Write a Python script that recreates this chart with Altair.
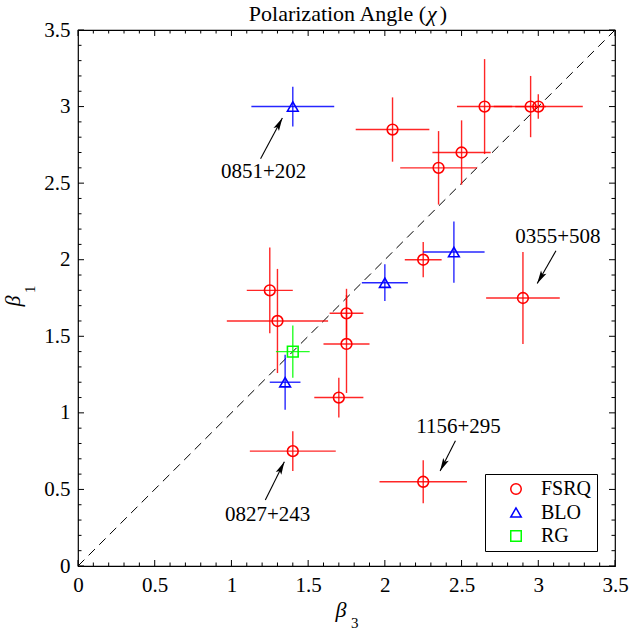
import math
import altair as alt
import pandas as pd

SERIF = "Liberation Serif"

# ---------------- data ----------------
classes = ["FSRQ", "BLO", "RG"]
class_colors = ["#ff0000", "#0000ff", "#00ff00"]
class_shapes = ["circle", "triangle-up", "square"]

src_class = ["FSRQ"] * 15 + ["BLO"] * 4 + ["RG"]
beta3 = [2.05, 2.35, 2.50, 2.65, 2.95, 3.00, 1.25, 1.30, 1.75, 1.75, 1.70, 2.25, 2.90, 1.40, 2.25,
         1.40, 1.35, 2.00, 2.45,
         1.40]
beta1 = [2.85, 2.60, 2.70, 3.00, 3.00, 3.00, 1.80, 1.60, 1.65, 1.45, 1.10, 2.00, 1.75, 0.75, 0.55,
         3.00, 1.20, 1.85, 2.05,
         1.40]
beta3_err = [0.24, 0.25, 0.19, 0.18, 0.10, 0.29, 0.15, 0.33, 0.11, 0.15, 0.16, 0.12, 0.24, 0.28, 0.285,
             0.27, 0.10, 0.15, 0.20,
             0.11]
beta1_err = [0.21, 0.24, 0.21, 0.31, 0.20, 0.08, 0.28, 0.34, 0.16, 0.32, 0.13, 0.115, 0.30, 0.13, 0.14,
             0.13, 0.18, 0.12, 0.20,
             0.17]

diag_x = [0.0, 3.5]
diag_y = [0.0, 3.5]

major_ticks = [0, 0.5, 1, 1.5, 2, 2.5, 3, 3.5]
minor_ticks = [0.1, 0.2, 0.3, 0.4, 0.6, 0.7, 0.8, 0.9, 1.1, 1.2, 1.3, 1.4, 1.6, 1.7, 1.8, 1.9,
               2.1, 2.2, 2.3, 2.4, 2.6, 2.7, 2.8, 2.9, 3.1, 3.2, 3.3, 3.4]

ann_label = ["0851+202", "0355+508", "1156+295", "0827+243"]
ann_tx = [1.21, 3.128, 2.48, 1.236]
ann_ty = [2.57, 2.147, 0.907, 0.336]
arrow_x0 = [1.19, 3.115, 2.46, 1.221]
arrow_y0 = [2.66, 2.058, 0.818, 0.431]
arrow_x1 = [1.332, 2.993, 2.36, 1.345]
arrow_y1 = [2.926, 1.845, 0.62, 0.681]

title_parts = ["Polarization Angle (", "\u03c7", ")"]

# ---------------- tables ----------------
df = pd.DataFrame({"cls": src_class, "b3": beta3, "b1": beta1, "e3": beta3_err, "e1": beta1_err})
df["b3lo"] = df["b3"] - df["e3"]
df["b3hi"] = df["b3"] + df["e3"]
df["b1lo"] = df["b1"] - df["e1"]
df["b1hi"] = df["b1"] + df["e1"]

ann = pd.DataFrame({"label": ann_label, "tx": ann_tx, "ty": ann_ty,
                    "x0": arrow_x0, "y0": arrow_y0, "x1": arrow_x1, "y1": arrow_y1})
ann["ang"] = [
    (math.degrees(math.atan2(x1 - x0, y1 - y0)) + 360.0) % 360.0
    for x0, y0, x1, y1 in zip(arrow_x0, arrow_y0, arrow_x1, arrow_y1)
]

W, H = 537, 536

xs = alt.Scale(domain=[0, 3.5], nice=False, zero=False)
ys = alt.Scale(domain=[0, 3.5], nice=False, zero=False)
xaxis = alt.Axis(values=major_ticks, format="~g", title=None, ticks=False, domain=False, grid=False,
                 labelFlush=False, labelOverlap=False, labelPadding=8, labelFont=SERIF,
                 labelFontSize=21, labelColor="black")
yaxis = alt.Axis(values=major_ticks, format="~g", title=None, ticks=False, domain=False, grid=False,
                 labelFlush=False, labelOverlap=False, labelPadding=8, labelFont=SERIF,
                 labelFontSize=21, labelColor="black")


def X(f):
    return alt.X(f, type="quantitative", scale=xs, axis=xaxis)


def Y(f):
    return alt.Y(f, type="quantitative", scale=ys, axis=yaxis)


cscale = alt.Scale(domain=classes, range=class_colors)
sscale = alt.Scale(domain=classes, range=class_shapes)
leg = alt.Legend(title=None, orient="none", legendX=407, legendY=444, direction="vertical",
                 padding=5, symbolOffset=16, labelOffset=15, rowPadding=3.5,
                 strokeColor="black", fillColor="white", labelFont=SERIF, labelFontSize=20,
                 labelColor="black", symbolSize=110, symbolStrokeWidth=1.5)

base = alt.Chart(df)

diag = alt.Chart(pd.DataFrame({"x": diag_x, "y": diag_y})).mark_line(
    color="black", strokeDash=[9, 6], strokeWidth=1
).encode(x=X("x"), y=Y("y"))

bar_layers = []
for c, col in zip(classes, class_colors):
    sub = base.transform_filter(alt.datum.cls == c)
    bar_layers.append(sub.mark_rule(strokeWidth=1.4, opacity=0.85, color=col).encode(
        x=X("b3lo"), x2="b3hi", y=Y("b1")))
    bar_layers.append(sub.mark_rule(strokeWidth=1.4, opacity=0.85, color=col).encode(
        x=X("b3"), y=Y("b1lo"), y2="b1hi"))

pts = base.mark_point(filled=False, strokeWidth=1.6, size=115, opacity=1).encode(
    x=X("b3"), y=Y("b1"),
    color=alt.Color("cls:N", scale=cscale, legend=leg),
    shape=alt.Shape("cls:N", scale=sscale, legend=leg))

tick_layers = []
for vals, L in [(major_ticks, 6), (minor_ticks, 3.5)]:
    tdf = pd.DataFrame({"v": vals})
    tc = alt.Chart(tdf)
    tick_layers += [
        tc.mark_rule(color="black", strokeWidth=1).encode(x=X("v"), y=alt.value(H), y2=alt.value(H - L)),
        tc.mark_rule(color="black", strokeWidth=1).encode(x=X("v"), y=alt.value(0), y2=alt.value(L)),
        tc.mark_rule(color="black", strokeWidth=1).encode(y=Y("v"), x=alt.value(0), x2=alt.value(L)),
        tc.mark_rule(color="black", strokeWidth=1).encode(y=Y("v"), x=alt.value(W), x2=alt.value(W - L)),
    ]

ARROW = "M0,0 L0.45,1.9 L0,1.5 L-0.45,1.9 Z"
ac = alt.Chart(ann)
shafts = ac.mark_rule(color="black", strokeWidth=1.1).encode(x=X("x0"), y=Y("y0"), x2="x1", y2="y1")
heads = ac.mark_point(shape=ARROW, filled=True, color="black", size=190, opacity=1, strokeWidth=0).encode(
    x=X("x1"), y=Y("y1"), angle=alt.Angle("ang:Q", scale=None))
ann_text = ac.mark_text(font=SERIF, fontSize=21, color="black", align="center", baseline="middle").encode(
    x=X("tx"), y=Y("ty"), text="label:N")

tdf1 = pd.DataFrame({"t": [title_parts[0]]})
tdf2 = pd.DataFrame({"t": [title_parts[1]]})
tdf3 = pd.DataFrame({"t": [title_parts[2]]})
title1 = alt.Chart(tdf1).mark_text(font=SERIF, fontSize=22, color="black", align="right",
                                   baseline="alphabetic").encode(x=alt.value(348), y=alt.value(-9), text="t:N")
title2 = alt.Chart(tdf2).mark_text(font=SERIF, fontSize=22, fontStyle="italic", color="black", align="left",
                                   baseline="alphabetic").encode(x=alt.value(349), y=alt.value(-9), text="t:N")
title3 = alt.Chart(tdf3).mark_text(font=SERIF, fontSize=22, color="black", align="right",
                                   baseline="alphabetic").encode(x=alt.value(369), y=alt.value(-9), text="t:N")

xl1 = alt.Chart(pd.DataFrame({"t": ["\u03b2"]})).mark_text(
    font=SERIF, fontSize=22, fontStyle="italic", color="black", align="center", baseline="alphabetic"
).encode(x=alt.value(263), y=alt.value(587), text="t:N")
xl2 = alt.Chart(pd.DataFrame({"t": ["3"]})).mark_text(
    font=SERIF, fontSize=15, color="black", align="left", baseline="alphabetic"
).encode(x=alt.value(273), y=alt.value(598), text="t:N")
yl1 = alt.Chart(pd.DataFrame({"t": ["\u03b2"]})).mark_text(
    font=SERIF, fontSize=22, fontStyle="italic", color="black", align="center", baseline="alphabetic", angle=270
).encode(x=alt.value(-58), y=alt.value(271), text="t:N")
yl2 = alt.Chart(pd.DataFrame({"t": ["1"]})).mark_text(
    font=SERIF, fontSize=15, color="black", align="left", baseline="alphabetic", angle=270
).encode(x=alt.value(-43), y=alt.value(263), text="t:N")

chart = alt.layer(
    diag, *bar_layers, pts, *tick_layers, shafts, heads, ann_text,
    title1, title2, title3, xl1, xl2, yl1, yl2
).properties(
    width=W, height=H,
    autosize=alt.AutoSizeParams(type="none"),
    padding={"left": 78, "top": 30, "right": 15, "bottom": 71},
    background="white",
).configure_view(stroke="black", strokeWidth=1.2)

chart.save("out.html", embed_options={"renderer": "svg", "actions": False})
